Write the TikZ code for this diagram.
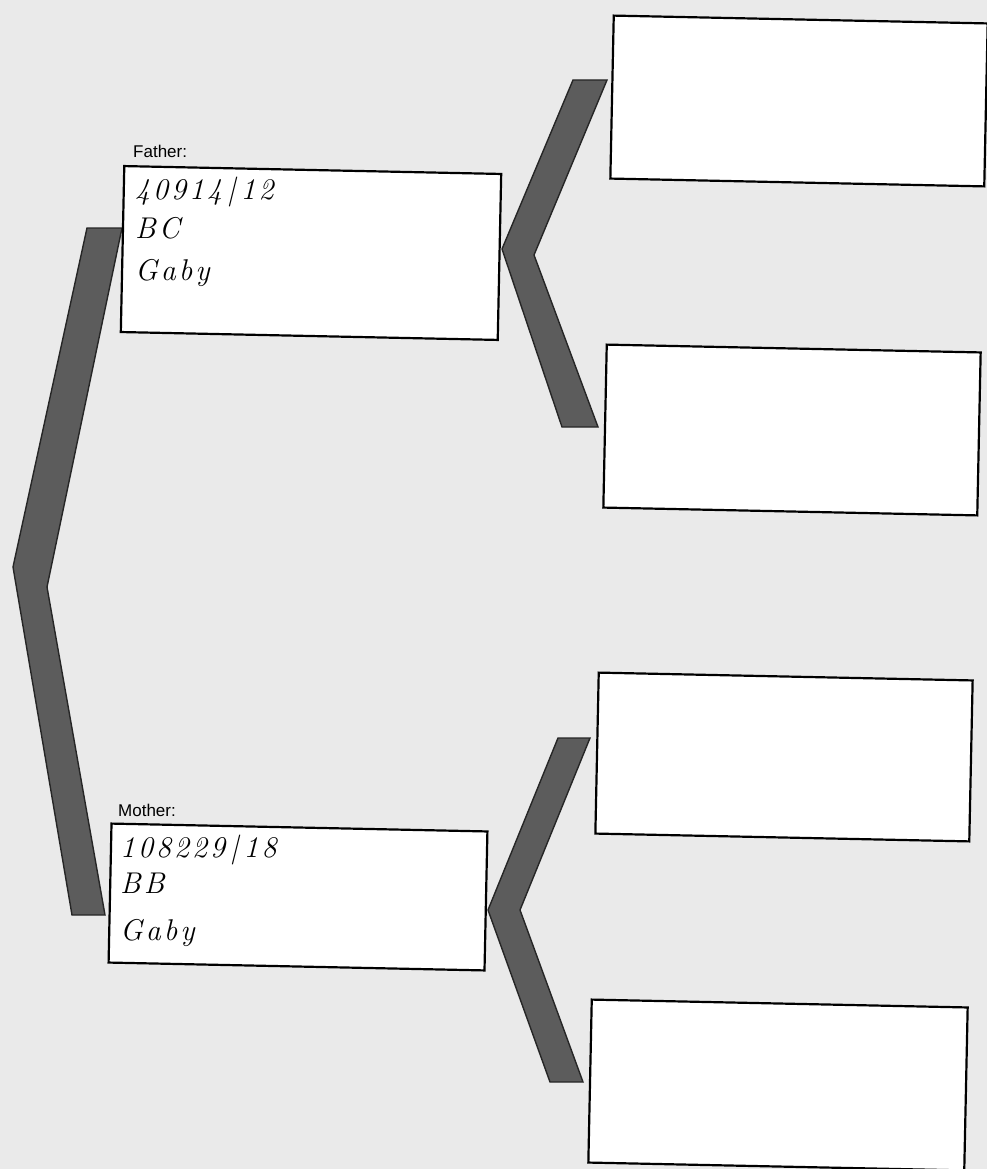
\documentclass[tikz,border=0pt]{standalone}
\usepackage{fontspec}
\setmainfont{Liberation Sans}
\newfontfamily\hand[LetterSpace=10]{Latin Modern Roman}
\definecolor{paper}{HTML}{EAEAEA}
\definecolor{chevfill}{HTML}{5C5C5C}
\definecolor{chevedge}{HTML}{262626}
\begin{document}
\begin{tikzpicture}[x=1pt,y=-1pt,
  card/.style={draw=black, line width=2.2pt, fill=white, rotate=-1.2, inner sep=0pt},
  chev/.style={fill=chevfill, draw=chevedge, line width=1.4pt, line join=miter},
  tag/.style={font=\fontsize{17}{17}\selectfont, anchor=base west, inner sep=0pt},
  hw/.style={font=\hand\itshape\fontsize{30}{30}\selectfont, anchor=base west, inner sep=0pt}]
\useasboundingbox (0,0) rectangle (987,1169);
\fill[paper] (0,0) rectangle (987,1169);
% brackets
\draw[chev] (87,228) -- (122,228) -- (47,587) -- (105,915) -- (72,915) -- (13,567) -- cycle;
\draw[chev] (573,80) -- (607,80) -- (534,255) -- (598,427) -- (562,427) -- (502,249) -- cycle;
\draw[chev] (558,738) -- (590,738) -- (520,910) -- (583,1082) -- (550,1082) -- (488,910) -- cycle;
% boxes
\node[card, minimum width=377pt, minimum height=166pt] (father) at (311,253) {};
\node[card, minimum width=376pt, minimum height=139pt] (mother) at (298,897) {};
\node[card, minimum width=374pt, minimum height=163pt] (ff) at (799,101) {};
\node[card, minimum width=374pt, minimum height=163pt] (fm) at (792,430) {};
\node[card, minimum width=374pt, minimum height=161pt] (mf) at (784,757) {};
\node[card, minimum width=376pt, minimum height=163pt] (mm) at (778,1085) {};
% labels
\node[tag] (flab) at (133,158) {Father:};
\node[tag] (mlab) at (118,816) {Mother:};
% handwritten entries
\node[hw] (f1) at (135,200) {40914\,|\,12};
\node[hw] (f2) at (135,238) {BC};
\node[hw] (f3) at (135,280) {Gaby};
\node[hw] (m1) at (120,857) {108229\,|\,18};
\node[hw] (m2) at (120,893) {BB};
\node[hw] (m3) at (120,940) {Gaby};
\end{tikzpicture}
\end{document}
